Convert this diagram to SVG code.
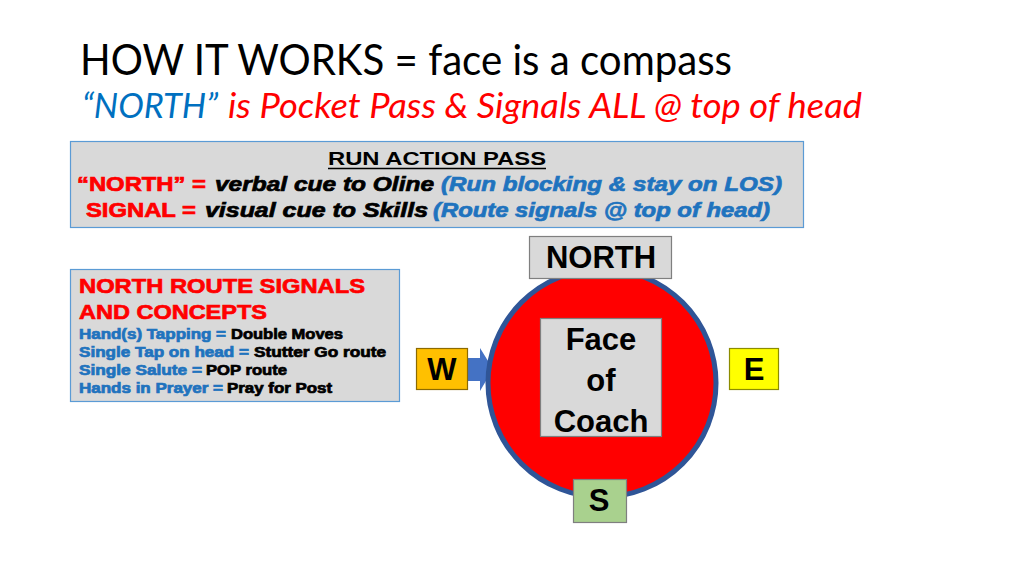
<svg xmlns="http://www.w3.org/2000/svg" width="1024" height="576" viewBox="0 0 1024 576">
<style>
.t{font-family:Lato,"Open Sans",sans-serif}
.a{font-family:"Liberation Sans",Arial,sans-serif;font-weight:bold}
.hv{stroke-width:0.7;paint-order:stroke}
.bi{font-style:italic}
.red{fill:#FF0000;stroke:#FF0000}
.blue{fill:#1F73BE;stroke:#1F73BE}
.blk{fill:#000000;stroke:#000000}
.thin{stroke:none}
.box{fill:#D9D9D9;stroke:#5B9BD5;stroke-width:1.2}
.gbox{fill:#D9D9D9;stroke:#7F7F7F;stroke-width:1.2}
.lbl{font-size:31px;text-anchor:middle}
</style>
<rect width="1024" height="576" fill="#FFFFFF"/>
<g id="title">
<text class="t blk thin" x="80" y="75" font-size="43" textLength="652" lengthAdjust="spacingAndGlyphs">HOW IT WORKS = face is a compass</text>
<text class="t" x="82" y="118" font-size="35" font-style="italic" fill="#0070C0" textLength="136" lengthAdjust="spacingAndGlyphs">“NORTH”</text>
<text class="t red thin" x="228" y="118" font-size="35" font-style="italic" textLength="634" lengthAdjust="spacingAndGlyphs">is Pocket Pass &amp; Signals ALL @ top of head</text>
</g>
<g id="run-action-pass">
<rect class="box" x="70.5" y="141.5" width="733" height="86"/>
<text class="a blk thin" x="328" y="165" font-size="18" textLength="218" lengthAdjust="spacingAndGlyphs">RUN ACTION PASS</text>
<line x1="328" y1="168.5" x2="546" y2="168.5" stroke="#000" stroke-width="1.5"/>
<text class="a red hv" x="77" y="191" font-size="20" textLength="129" lengthAdjust="spacingAndGlyphs">“NORTH” =</text>
<text class="a blk bi hv" x="215" y="191" font-size="20" textLength="219" lengthAdjust="spacingAndGlyphs">verbal cue to Oline</text>
<text class="a blue bi hv" x="441" y="191" font-size="20" textLength="341" lengthAdjust="spacingAndGlyphs">(Run blocking &amp; stay on LOS)</text>
<text class="a red hv" x="86" y="217" font-size="20" textLength="110" lengthAdjust="spacingAndGlyphs">SIGNAL =</text>
<text class="a blk bi hv" x="205" y="217" font-size="20" textLength="223" lengthAdjust="spacingAndGlyphs">visual cue to Skills</text>
<text class="a blue bi hv" x="433" y="217" font-size="20" textLength="337" lengthAdjust="spacingAndGlyphs">(Route signals @ top of head)</text>
</g>
<g id="route-signals">
<rect class="box" x="70.5" y="269.5" width="329" height="132"/>
<text class="a red hv" x="79" y="293" font-size="21" textLength="286" lengthAdjust="spacingAndGlyphs">NORTH ROUTE SIGNALS</text>
<text class="a red hv" x="79" y="319" font-size="21" textLength="188" lengthAdjust="spacingAndGlyphs">AND CONCEPTS</text>
<text class="a blue hv" x="79" y="339" font-size="14" textLength="147" lengthAdjust="spacingAndGlyphs" stroke-width="0.4">Hand(s) Tapping =</text>
<text class="a blk hv" x="231" y="339" font-size="14" textLength="112" lengthAdjust="spacingAndGlyphs" stroke-width="0.4">Double Moves</text>
<text class="a blue hv" x="79" y="357" font-size="14" textLength="170" lengthAdjust="spacingAndGlyphs" stroke-width="0.4">Single Tap on head =</text>
<text class="a blk hv" x="254" y="357" font-size="14" textLength="132" lengthAdjust="spacingAndGlyphs" stroke-width="0.4">Stutter Go route</text>
<text class="a blue hv" x="79" y="375" font-size="14" textLength="123" lengthAdjust="spacingAndGlyphs" stroke-width="0.4">Single Salute =</text>
<text class="a blk hv" x="206" y="375" font-size="14" textLength="81" lengthAdjust="spacingAndGlyphs" stroke-width="0.4">POP route</text>
<text class="a blue hv" x="79" y="393" font-size="14" textLength="144" lengthAdjust="spacingAndGlyphs" stroke-width="0.4">Hands in Prayer =</text>
<text class="a blk hv" x="227" y="393" font-size="14" textLength="105" lengthAdjust="spacingAndGlyphs" stroke-width="0.4">Pray for Post</text>
</g>
<g id="connectors">
<polygon points="468,358 480,358 480,348 493,369 480,391 480,381 468,381" fill="#4472C4"/>
</g>
<g id="face-circle">
<circle cx="602" cy="383" r="114" fill="#FF0000" stroke="#2F5597" stroke-width="5"/>
</g>
<g id="face-of-coach">
<rect class="gbox" x="540.5" y="318.5" width="121" height="118"/>
<text class="a blk lbl thin" x="601" y="350">Face</text>
<text class="a blk lbl thin" x="601" y="391">of</text>
<text class="a blk lbl thin" x="601" y="432">Coach</text>
</g>
<g id="north">
<rect class="gbox" x="529.5" y="236.5" width="142" height="42"/>
<text class="a blk lbl thin" x="601" y="268" font-size="31">NORTH</text>
</g>
<g id="west">
<rect x="416.5" y="348.5" width="51" height="41" fill="#FFC000" stroke="#8C6A00" stroke-width="1.2"/>
<text class="a blk lbl thin" x="442" y="380" font-size="30">W</text>
</g>
<g id="east">
<rect x="729.5" y="348.5" width="49" height="41" fill="#FFFF00" stroke="#8C8C00" stroke-width="1.2"/>
<text class="a blk lbl thin" x="754" y="380" font-size="30">E</text>
</g>
<g id="south">
<rect x="573.5" y="479.5" width="53" height="43" fill="#A9D18E" stroke="#7F7F7F" stroke-width="1.2"/>
<text class="a blk lbl thin" x="599" y="511" font-size="31">S</text>
</g>
</svg>
